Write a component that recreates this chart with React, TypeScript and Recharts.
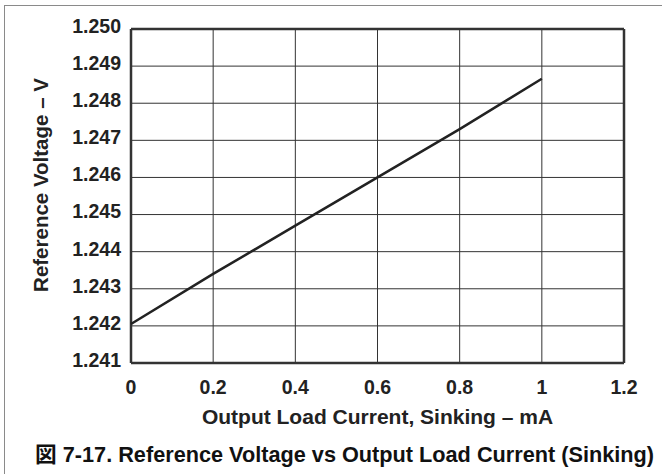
import React from 'react';
import { LineChart, Line, XAxis, YAxis, CartesianGrid, ReferenceLine } from 'recharts';

const loadCurrent = [0, 0.2, 0.4, 0.6, 0.8, 1];
const refVoltage = [1.24205, 1.2434, 1.2447, 1.246, 1.2473, 1.24866];
const xTicks = [0, 0.2, 0.4, 0.6, 0.8, 1, 1.2];
const yTicks = [1.241, 1.242, 1.243, 1.244, 1.245, 1.246, 1.247, 1.248, 1.249, 1.25];

const data = loadCurrent.map((x, i) => ({ x, v: refVoltage[i] }));

const font = '"Liberation Sans", Arial, sans-serif';

const App: React.FC = () => {
  return (
    <div style={{ position: 'fixed', left: 0, top: 0, width: 662, height: 474, background: '#fff', fontFamily: font }}>
      {/* outer frame pieces */}
      <div style={{ position: 'absolute', left: 4, top: 5, width: 658, height: 1, background: '#8a8a8a' }} />
      <div style={{ position: 'absolute', left: 4, top: 5, width: 1, height: 469, background: '#8a8a8a' }} />

      <LineChart
        width={662}
        height={474}
        data={data}
        margin={{ top: 29, right: 38, left: 51, bottom: 81 }}
      >
        <CartesianGrid stroke="#333" strokeWidth={1} />
        <XAxis
          dataKey="x"
          type="number"
          domain={[0, 1.2]}
          ticks={xTicks}
          tickFormatter={(v: number) => String(Number(v.toFixed(1)))}
          height={30}
          axisLine={false}
          tickLine={false}
          tickSize={0}
          tickMargin={17}
          tick={{ fill: '#222', fontSize: 19.5, fontWeight: 700, fontFamily: font }}
          interval={0}
        />
        <YAxis
          type="number"
          domain={[1.241, 1.25]}
          ticks={yTicks}
          tickFormatter={(v: number) => v.toFixed(3)}
          width={80}
          axisLine={false}
          tickLine={false}
          tickSize={0}
          tickMargin={10}
          tick={{ fill: '#222', fontSize: 19.5, fontWeight: 700, fontFamily: font, dy: -3 }}
          interval={0}
        />
        <ReferenceLine x={0} stroke="#333" strokeWidth={2.5} />
        <ReferenceLine x={1.2} stroke="#333" strokeWidth={2.5} />
        <ReferenceLine y={1.25} stroke="#333" strokeWidth={2.5} />
        <ReferenceLine y={1.241} stroke="#333" strokeWidth={2.5} />
        <Line
          dataKey="v"
          type="linear"
          stroke="#222"
          strokeWidth={2.5}
          dot={false}
          isAnimationActive={false}
        />
      </LineChart>

      <div style={{ position: 'absolute', left: 131, width: 493, top: 405, textAlign: 'center', fontSize: 21, fontWeight: 700, color: '#222', whiteSpace: 'nowrap' }}>
        Output Load Current, Sinking – mA
      </div>
      <div
        style={{
          position: 'absolute',
          left: 41,
          top: 185,
          transform: 'translate(-50%, -50%) rotate(-90deg)',
          whiteSpace: 'nowrap',
          fontSize: 20.5,
          fontWeight: 700,
          color: '#222',
        }}
      >
        Reference Voltage – V
      </div>
      <div style={{ position: 'absolute', left: 35, top: 437, fontSize: 21.7, fontWeight: 700, color: '#111', whiteSpace: 'nowrap' }}>
        <span style={{ fontFamily: '"Noto Sans CJK JP", sans-serif' }}>図</span> 7-17. Reference Voltage vs Output Load Current (Sinking)
      </div>
    </div>
  );
};

export default App;
